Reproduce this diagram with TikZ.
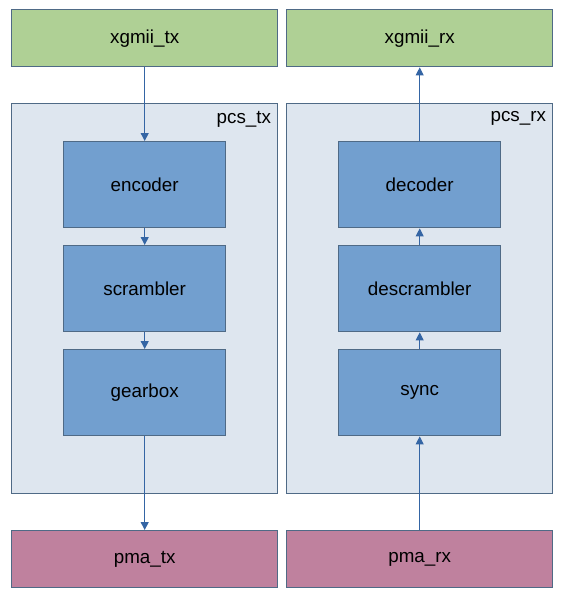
\documentclass[tikz,border=0pt]{standalone}
\usepackage{fontspec}
\setmainfont{Liberation Sans}
\usepackage{xcolor}
\usetikzlibrary{positioning,calc,arrows.meta}

\definecolor{iface}{HTML}{AFD095}
\definecolor{phys}{HTML}{BF819E}
\definecolor{outer}{HTML}{DEE6EF}
\definecolor{inner}{HTML}{729FCF}
\definecolor{frame}{HTML}{4F6A86}
\definecolor{wire}{HTML}{3465A4}

\tikzset{
    block/.style={draw=frame, line width=1.4pt, anchor=north west, inner sep=0pt,
        font=\fontsize{18.8}{21}\selectfont},
    ifbox/.style={block, fill=iface, minimum width=266pt, minimum height=57pt},
    phybox/.style={block, fill=phys, minimum width=266pt, minimum height=57pt},
    pcsbox/.style={block, fill=outer, line width=1.2pt, minimum width=266pt, minimum height=390pt},
    stagebox/.style={block, fill=inner, minimum width=162pt, minimum height=86pt},
    tag/.style={anchor=north east, inner sep=0pt, font=\fontsize{18.8}{21}\selectfont},
    flow/.style={draw=wire, line width=0.9pt, -{Triangle[length=8pt,width=8pt]}}
}

\begin{document}
\begin{tikzpicture}[x=1pt, y=-1pt]
    \useasboundingbox (0,0) rectangle (561,597);
    % interface blocks
    \node[ifbox] (xgmiitx) at (11,9) {xgmii\_tx};
    \node[ifbox] (xgmiirx) at (286,9) {xgmii\_rx};
    \node[phybox] (pmatx) at (11,530) {pma\_tx};
    \node[phybox] (pmarx) at (286,530) {pma\_rx};
    % pcs containers
    \node[pcsbox] (pcstx) at (11,103) {};
    \node[pcsbox] (pcsrx) at (286,103) {};
    \node[tag] (pcstxlbl) at ($(pcstx.north east)+(-7,8)$) {pcs\_tx};
    \node[tag] (pcsrxlbl) at ($(pcsrx.north east)+(-7,8)$) {pcs\_rx};
    % tx stages
    \node[stagebox] (encoder) at (63,141) {encoder};
    \node[stagebox] (scrambler) at (63,245) {scrambler};
    \node[stagebox] (gearbox) at (63,349) {gearbox};
    % rx stages
    \node[stagebox] (decoder) at (338,141) {decoder};
    \node[stagebox] (descrambler) at (338,245) {descrambler};
    \node[stagebox] (sync) at (338,349) {sync};
    % tx path
    \draw[flow] (xgmiitx.south) -- (encoder.north);
    \draw[flow] (encoder.south) -- (scrambler.north);
    \draw[flow] (scrambler.south) -- (gearbox.north);
    \draw[flow] (gearbox.south) -- (pmatx.north);
    % rx path
    \draw[flow] (pmarx.north) -- (sync.south);
    \draw[flow] (sync.north) -- (descrambler.south);
    \draw[flow] (descrambler.north) -- (decoder.south);
    \draw[flow] (decoder.north) -- (xgmiirx.south);
\end{tikzpicture}
\end{document}
